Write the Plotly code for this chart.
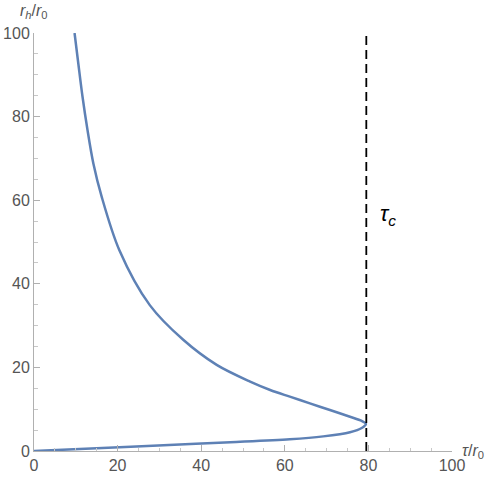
import plotly.graph_objects as go

# curve, ordered from the top of the upper branch down to the origin
tau = [9.7, 10.6, 11.6, 12.8, 14.2, 16.2, 20.4, 27.7, 35.7, 43.7, 51.7, 56.5,
       61.2, 66.0, 70.8, 75.6, 78.4, 79.4, 78.4, 75.6, 69.2, 61.2, 47.0, 31.0, 15.0, 0.0]
r_h = [100.0, 92.7, 84.8, 76.8, 68.8, 60.8, 48.1, 34.9, 26.6, 20.6, 16.6, 14.6,
       13.0, 11.4, 9.8, 8.2, 7.2, 6.5, 5.5, 4.5, 3.5, 2.8, 2.1, 1.4, 0.65, 0.0]

tau_c = 79.5
axis_ticks = [0, 20, 40, 60, 80, 100]

fig = go.Figure()

fig.add_trace(go.Scatter(
    x=tau, y=r_h,
    mode="lines",
    line=dict(color="#5E81B5", width=2.5, shape="spline", smoothing=0.9),
    showlegend=False,
))

fig.add_trace(go.Scatter(
    x=[tau_c, tau_c], y=[0, 100],
    mode="lines",
    line=dict(color="black", width=1.8, dash="9px,5px"),
    showlegend=False,
))

axis_style = dict(
    range=[0, 100],
    tickvals=axis_ticks,
    automargin=False,
    showline=True,
    linecolor="#b0b0b0",
    linewidth=1,
    showgrid=False,
    zeroline=False,
    ticks="inside",
    ticklen=6,
    tickcolor="#b0b0b0",
    tickfont=dict(family="Liberation Sans", size=16, color="#555555"),
    minor=dict(dtick=5, ticks="inside", ticklen=3.5, tickcolor="#c8c8c8"),
)

fig.update_layout(
    width=498, height=477,
    margin=dict(l=34, r=46, t=33, b=26),
    plot_bgcolor="white",
    paper_bgcolor="white",
    xaxis=axis_style,
    yaxis=axis_style,
    annotations=[
        dict(x=0, y=1, xref="paper", yref="paper", xanchor="center", yanchor="bottom",
             yshift=10, showarrow=False,
             text="<i>r</i><sub><i>h</i></sub>/<i>r</i><sub>0</sub>",
             font=dict(family="Liberation Sans", size=16, color="#555555")),
        dict(x=1, y=0, xref="paper", yref="paper", xanchor="left", yanchor="middle",
             xshift=8, yshift=0, showarrow=False,
             text="<i>τ</i>/<i>r</i><sub>0</sub>",
             font=dict(family="Liberation Sans", size=16, color="#555555")),
        dict(x=84.8, y=56.5, xref="x", yref="y", showarrow=False,
             text="<i>τ</i><sub><i>c</i></sub>",
             font=dict(family="Liberation Sans", size=22, color="black")),
    ],
)

# drop the default body margin so the figure sits at the window's corner
fig.write_html("out.html", config={"displayModeBar": False},
               post_script="document.body.style.margin='0';")
